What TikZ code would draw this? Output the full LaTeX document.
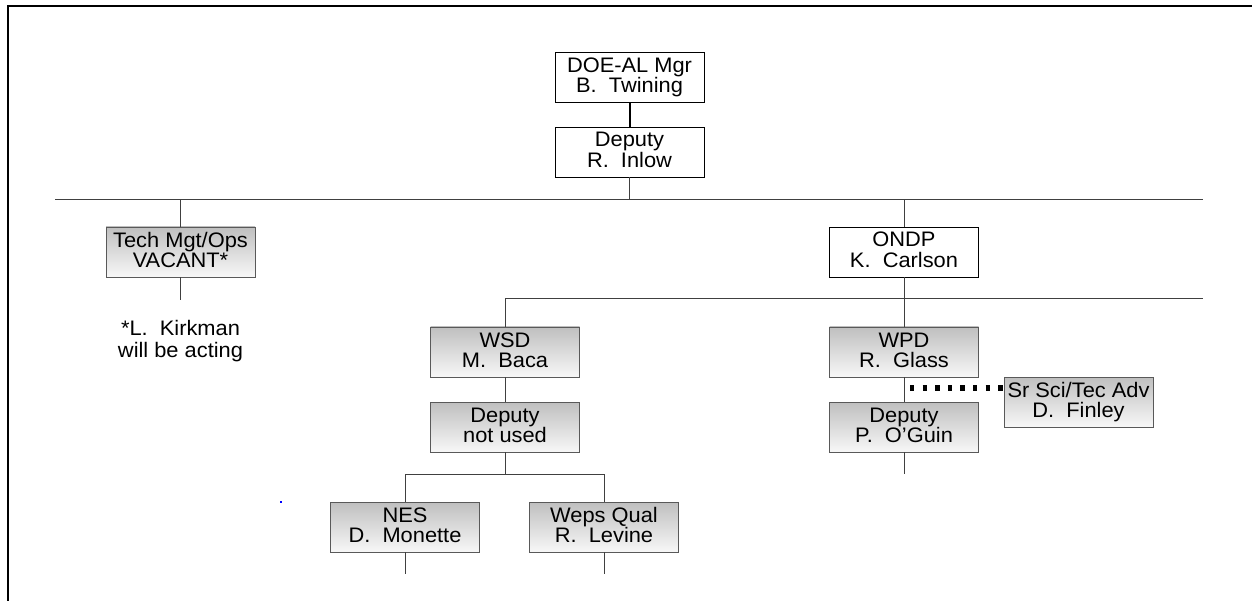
\documentclass[tikz,border=0pt]{standalone}
\usepackage{fontspec}
\setmainfont{Liberation Sans}[FakeStretch=1.04]
\newcommand\myboxfont{\fontsize{21}{20.5}\selectfont\lineskiplimit=-30pt\lineskip=0pt\relax}
\newcommand\mynotefont{\fontsize{21}{22}\selectfont\lineskiplimit=-30pt\lineskip=0pt\relax}
\newcommand\mytwo[2]{\rule{0pt}{15pt}#1\\#2\rule[-4.5pt]{0pt}{0pt}}
\begin{document}
\begin{tikzpicture}[x=1pt,y=-1pt,
  box/.style={draw=black, line width=0.9pt, minimum width=149pt, minimum height=50pt,
    inner sep=0pt, align=center, font=\myboxfont, fill=white},
  shbox/.style={box, draw=black!65, top color=black!25, bottom color=black!3},
  conn/.style={draw=black!75, line width=1pt},
  boss/.style={draw=black, line width=2pt},
  advisor/.style={draw=black, line width=5.5pt, dash pattern=on 4.3pt off 8.3pt},
  frame/.style={draw=black, line width=2pt},
  note/.style={align=center, inner sep=0pt, font=\mynotefont}]
\useasboundingbox (0,0) rectangle (1252,601);
\draw[frame] (8,601) -- (8,6) -- (1252,6);

% coordinates for bars
\coordinate (b1l) at (55,200);
\coordinate (b1r) at (1203,200);
\coordinate (b1m) at (630,200);
\coordinate (b1t) at (180.5,200);
\coordinate (b1o) at (904,200);
\coordinate (b2l) at (505,299);
\coordinate (b2r) at (1203,299);
\coordinate (b3l) at (405,474);
\coordinate (b3r) at (604,474);
\coordinate (b3m) at (505,474);
\coordinate (techend) at (180.5,300);
\coordinate (ogend) at (904,474);
\coordinate (nesend) at (405,574);
\coordinate (wepsend) at (604,574);
\coordinate (dotstart) at (910,388);

% connectors (behind boxes)
\draw[conn] (b1l) -- (b1r);
\draw[conn] (b2l) -- (b2r);
\draw[conn] (b3l) -- (b3r);

% boxes
\node[box] (doe) at (629.5,77.5) {\mytwo{DOE-AL Mgr}{B.~ Twining}};
\node[box] (dep) at (629.5,152) {\mytwo{Deputy}{R.~ Inlow}};
\node[shbox] (tech) at (180.5,252) {\mytwo{Tech Mgt/Ops}{VACANT*}};
\node[box] (ondp) at (904,252) {\mytwo{ONDP}{K.~ Carlson}};
\node[shbox] (wsd) at (505,352) {\mytwo{WSD}{M.~ Baca}};
\node[shbox] (wpd) at (904,352) {\mytwo{WPD}{R.~ Glass}};
\node[shbox] (depnu) at (505,427) {\mytwo{Deputy}{not used}};
\node[shbox] (depog) at (904,427) {\mytwo{Deputy}{P.~ O’Guin}};
\node[shbox] (sr) at (1078.5,402) {\mytwo{Sr Sci/Tec Adv}{D.~ Finley}};
\node[shbox] (nes) at (405,527) {\mytwo{NES}{D.~ Monette}};
\node[shbox] (weps) at (604,527) {\mytwo{Weps Qual}{R.~ Levine}};
\node[note] (acting) at (180.5,341) {\mytwo{{*}L.~ Kirkman}{will be acting}};

% vertical connectors
\draw[boss] (doe.south) -- (dep.north);
\draw[conn] (dep.south) -- (dep.south |- b1m);
\draw[conn] (b1t) -- (tech.north);
\draw[conn] (tech.south) -- (techend);
\draw[conn] (b1o) -- (ondp.north);
\draw[conn] (ondp.south) -- (wpd.north);
\draw[conn] (b2l) -- (wsd.north);
\draw[conn] (wsd.south) -- (depnu.north);
\draw[conn] (depnu.south) -- (b3m);
\draw[conn] (b3l) -- (nes.north);
\draw[conn] (b3r) -- (weps.north);
\draw[conn] (nes.south) -- (nesend);
\draw[conn] (weps.south) -- (wepsend);
\draw[conn] (wpd.south) -- (depog.north);
\draw[conn] (depog.south) -- (ogend);
\draw[advisor] (dotstart) -- (sr.west |- dotstart);

% stray blue dot
\fill[blue] (280,501) rectangle (282,503);
\end{tikzpicture}
\end{document}
